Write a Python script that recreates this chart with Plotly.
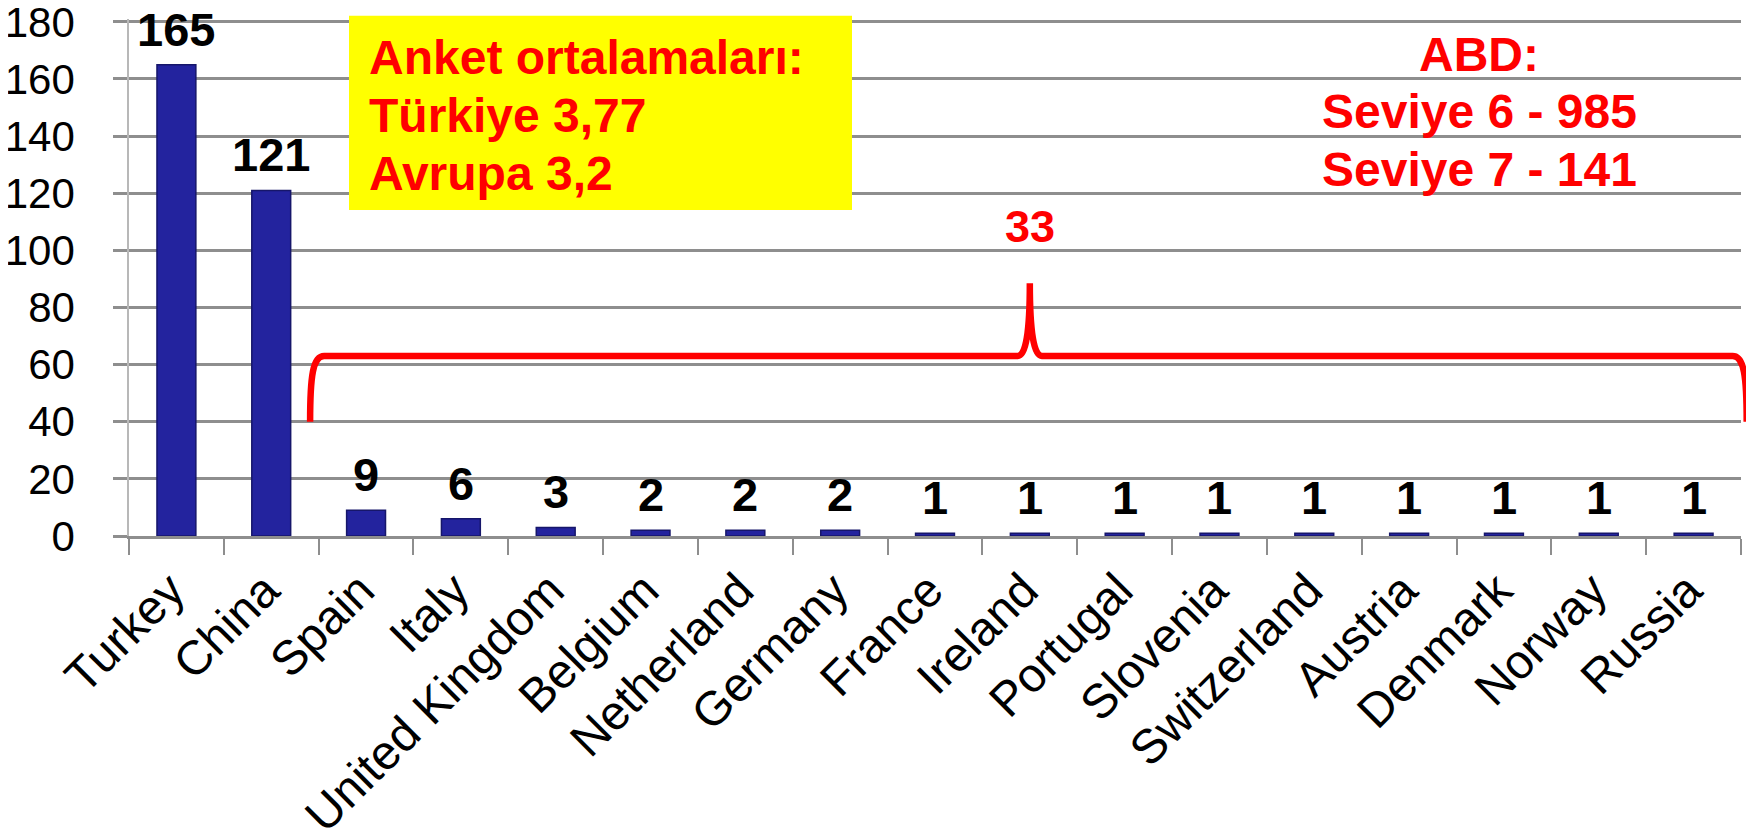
import plotly.graph_objects as go

# ---- data ----
countries = ["Turkey", "China", "Spain", "Italy", "United Kingdom", "Belgium",
             "Netherland", "Germany", "France", "Ireland", "Portugal", "Slovenia",
             "Switzerland", "Austria", "Denmark", "Norway", "Russia"]
counts = [165, 121, 9, 6, 3, 2, 2, 2, 1, 1, 1, 1, 1, 1, 1, 1, 1]
y_tick_vals = [0, 20, 40, 60, 80, 100, 120, 140, 160, 180]
survey_lines = ["Anket ortalamaları:", "Türkiye 3,77", "Avrupa 3,2"]
usa_lines = ["ABD:", "Seviye 6 - 985", "Seviye 7 - 141"]
group_total_label = "33"

# ---- style / layout parameters ----
W, H = 1754, 836
OFF = 8  # page body margin around the figure
Y_TOP_TICK = 180
Y_MAX = 181  # small headroom so the 180 gridline is kept
# page pixels: value 0 at y=536, value 180 at y=22; plot x from 129 to 1741
PX_PER_UNIT = (536 - 22) / Y_TOP_TICK
plot_top_page = 536 - Y_MAX * PX_PER_UNIT
ML = 129 - OFF
MT = plot_top_page - OFF
MR = W - (1741 - OFF)
MB = H - (536 - OFF)
FONT = "Liberation Sans, Arial, sans-serif"
GRID = "#8e8e8e"
RED = "#ff0000"
N = len(countries)

plot_w = W - ML - MR
plot_h = H - MT - MB


def px_to_paper_x(px):
    return (px - OFF - ML) / plot_w


def px_to_paper_y(py):
    return (H - MB - (py - OFF)) / plot_h


def cat_to_paper(c):
    return (c + 0.5) / N


def val_to_paper(v):
    return v / Y_MAX


fig = go.Figure()
fig.add_trace(go.Bar(
    x=countries, y=counts, width=0.41,
    marker=dict(color="#23239e", line=dict(color="#16166a", width=1.5)),
    hoverinfo="x+y",
))

annotations = []
# value labels above bars
for c, v in zip(countries, counts):
    annotations.append(dict(
        x=c, y=v, xref="x", yref="y", text=str(v), showarrow=False,
        yanchor="bottom", yshift=7,
        font=dict(family=FONT, size=47, color="black", weight="bold"),
    ))

# yellow box text (left aligned)
survey_y_px = [58, 116, 174]
for line, py in zip(survey_lines, survey_y_px):
    annotations.append(dict(
        x=px_to_paper_x(367), y=px_to_paper_y(py), xref="paper", yref="paper",
        text=line, showarrow=False, xanchor="left", yanchor="middle",
        font=dict(family=FONT, size=48, color=RED, weight="bold"),
    ))

# USA text (centered)
usa_y_px = [55, 112, 170]
for line, py in zip(usa_lines, usa_y_px):
    annotations.append(dict(
        x=px_to_paper_x(1479), y=px_to_paper_y(py), xref="paper", yref="paper",
        text=line, showarrow=False, xanchor="center", yanchor="middle",
        font=dict(family=FONT, size=48, color=RED, weight="bold"),
    ))

# brace (category units / value units)
brace_left, brace_mid, brace_right = 1.41, 9.0, 16.56
brace_bottom, brace_level, brace_tip = 40, 63, 88.5
xl, xm, xr = cat_to_paper(brace_left), cat_to_paper(brace_mid), cat_to_paper(brace_right)
yb, yl, yt = val_to_paper(brace_bottom), val_to_paper(brace_level), val_to_paper(brace_tip)
rx = 14 / plot_w
cw = 12 / plot_w
path = (
    f"M {xl},{yb} C {xl},{yb + (yl - yb) * 0.7} {xl + rx * 0.2},{yl} {xl + rx},{yl} "
    f"L {xm - cw},{yl} Q {xm},{yl} {xm},{yt} Q {xm},{yl} {xm + cw},{yl} "
    f"L {xr - rx},{yl} C {xr - rx * 0.2},{yl} {xr},{yb + (yl - yb) * 0.7} {xr},{yb}"
)

annotations.append(dict(
    x=xm, y=px_to_paper_y(227), xref="paper", yref="paper",
    text=group_total_label, showarrow=False, yanchor="middle",
    font=dict(family=FONT, size=45, color=RED, weight="bold"),
))

shapes = [
    dict(type="rect", xref="paper", yref="paper",
         x0=px_to_paper_x(349), x1=px_to_paper_x(852),
         y0=px_to_paper_y(210), y1=px_to_paper_y(16),
         fillcolor="#ffff00", line=dict(width=0), layer="above"),
    dict(type="path", xref="paper", yref="paper", path=path,
         line=dict(color=RED, width=6.5), layer="above"),
]

fig.update_layout(
    width=W, height=H,
    margin=dict(l=ML, r=MR, t=MT, b=MB, autoexpand=False),
    paper_bgcolor="white", plot_bgcolor="white",
    showlegend=False,
    annotations=annotations, shapes=shapes,
    font=dict(family=FONT, color="black"),
)
fig.update_xaxes(
    type="category", tickangle=-45, tickfont=dict(family=FONT, size=48, color="black"),
    showline=True, linecolor=GRID, linewidth=2.5,
    ticks="outside", tickson="boundaries", ticklen=16, tickcolor=GRID, tickwidth=2,
    showgrid=False, automargin=False, ticklabelstandoff=4, ticklabelshift=-6,
)
fig.update_yaxes(
    range=[0, Y_MAX], tickvals=y_tick_vals,
    tickfont=dict(family=FONT, size=42, color="black"),
    showgrid=True, gridcolor=GRID, gridwidth=2.5,
    showline=True, linecolor="#b8b8b8", linewidth=1.5,
    ticks="outside", ticklen=14, tickcolor=GRID, tickwidth=2.5,
    zeroline=False, automargin=False, ticklabelstandoff=30,
    ticklabeloverflow="allow",
)

fig.write_html("out.html")
